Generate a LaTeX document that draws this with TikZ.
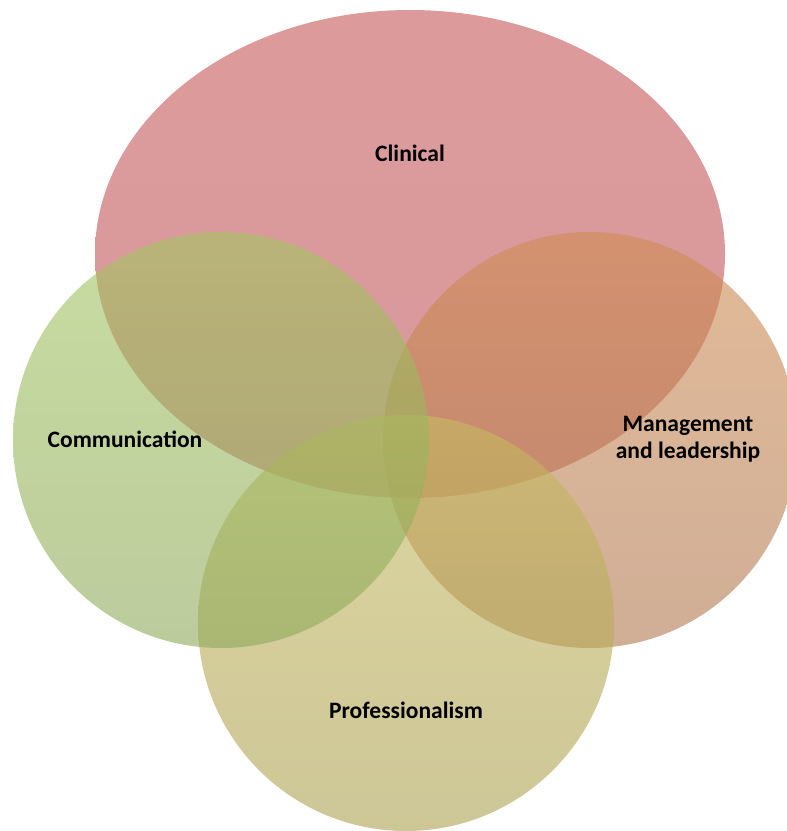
\documentclass[tikz,border=0pt]{standalone}
\usepackage{fontspec}
\setmainfont{Carlito}
\usepackage{xcolor}

\definecolor{clinTop}{RGB}{197,87,87}
\definecolor{clinBot}{RGB}{190,87,93}
\definecolor{commTop}{RGB}{163,197,97}
\definecolor{commBot}{RGB}{143,168,90}
\definecolor{mgmtTop}{RGB}{207,140,83}
\definecolor{mgmtBot}{RGB}{175,120,80}
\definecolor{profTop}{RGB}{198,187,97}
\definecolor{profBot}{RGB}{172,160,80}

\begin{document}
\begin{tikzpicture}[x=0.02cm,y=-0.02cm]
    \tikzstyle{blob} = [fill opacity=0.6]
    \tikzstyle{lbl} = [font=\fontsize{13.4}{15.5}\selectfont\bfseries,align=center,inner sep=0pt]

    \useasboundingbox (0,0) rectangle (787,831);
    \clip (0,0) rectangle (787,831);

    \shade[blob,top color=clinTop,bottom color=clinBot]
        (410,254) ellipse [x radius=315,y radius=244];
    \shade[blob,top color=mgmtTop,bottom color=mgmtBot]
        (590,440) ellipse [x radius=207,y radius=208];
    \shade[blob,top color=profTop,bottom color=profBot]
        (406,623) ellipse [x radius=208,y radius=208];
    \shade[blob,top color=commTop,bottom color=commBot]
        (221,440) ellipse [x radius=208,y radius=208];

    % labels
    \node[lbl] (clinical) at (410,153) {Clinical};
    \node[lbl] (communication) at (125,439) {Communication};
    \node[lbl] (management) at (688,439) {Management\\and leadership};
    \node[lbl] (professionalism) at (406,710) {Professionalism};
\end{tikzpicture}
\end{document}
